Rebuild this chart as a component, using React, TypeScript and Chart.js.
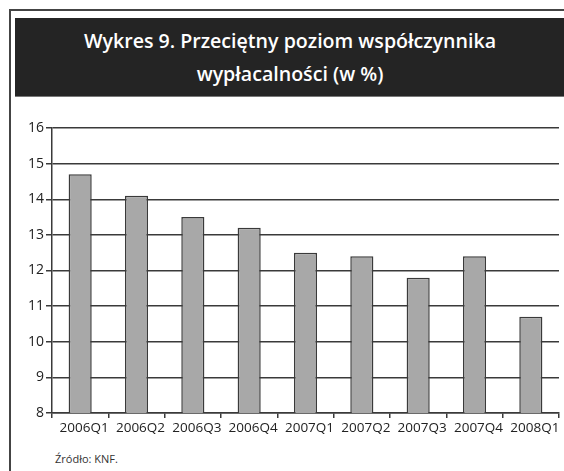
import React, { useEffect, useRef } from "react";
import { Chart, registerables } from "chart.js";

Chart.register(...registerables);

const titleLines = ["Wykres 9. Przeciętny poziom współczynnika", "wypłacalności (w %)"];
const categories = ["2006Q1", "2006Q2", "2006Q3", "2006Q4", "2007Q1", "2007Q2", "2007Q3", "2007Q4", "2008Q1"];
const values = [14.7, 14.1, 13.5, 13.2, 12.5, 12.4, 11.8, 12.4, 10.7];
const yMin = 8;
const yMax = 16;
const sourceText = "Źródło: KNF.";

export default function App() {
  const ref = useRef<HTMLCanvasElement | null>(null);
  useEffect(() => {
    if (!ref.current) return;
    const font = "'Open Sans', sans-serif";
    const chart = new Chart(ref.current, {
      type: "bar",
      data: {
        labels: categories,
        datasets: [
          {
            data: values,
            backgroundColor: "#a8a8a8",
            borderColor: "#3a3a3a",
            borderWidth: 1.5,
            categoryPercentage: 1,
            barPercentage: 0.41,
          },
        ],
      },
      options: {
        animation: false,
        responsive: false,
        maintainAspectRatio: false,
        layout: { padding: { top: 28, right: 5, left: 0, bottom: 0 } },
        plugins: { legend: { display: false }, tooltip: { enabled: false }, title: { display: false } },
        scales: {
          x: {
            grid: { display: true, drawOnChartArea: false, drawTicks: true, tickLength: 5, color: "#3a3a3a", lineWidth: 1.5, offset: true },
            border: { display: true, color: "#3a3a3a", width: 1.5 },
            ticks: { color: "#222", font: { family: font, size: 13.5 }, padding: 2, maxRotation: 0, autoSkip: false, labelOffset: 4 },
            afterFit: (s: any) => { s.height = 32; },
          },
          y: {
            min: yMin,
            max: yMax,
            grid: { display: true, drawTicks: true, tickLength: 6, color: "#3a3a3a", lineWidth: 1.5 },
            border: { display: true, color: "#3a3a3a", width: 1.5 },
            ticks: { stepSize: 1, color: "#222", font: { family: font, size: 14 }, padding: 2 },
            afterFit: (s: any) => { s.width = 52; },
          },
        },
      },
    });
    return () => chart.destroy();
  }, []);

  return (
    <div style={{ position: "absolute", left: 0, top: 0, width: 564, height: 471, overflow: "hidden", background: "#fff" }}>
      <div style={{ position: "absolute", left: 9, top: 9, width: 600, height: 500, borderLeft: "2px solid #444", borderTop: "2px solid #444" }} />
      <div
        style={{
          position: "absolute",
          left: 15,
          top: 18,
          width: 560,
          height: 79,
          background: "#242424",
          borderBottom: "1px solid #777",
          color: "#fff",
          fontFamily: "'Open Sans', sans-serif",
          fontWeight: 600,
          fontSize: 19.6,
          lineHeight: "33px",
          textAlign: "center",
          paddingTop: 6,
          boxSizing: "border-box",
          paddingRight: 10,
        }}
      >
        <div>{titleLines[0]}</div>
        <div>{titleLines[1]}</div>
      </div>
      <canvas ref={ref} width={564} height={345} style={{ position: "absolute", left: 0, top: 100, width: 564, height: 345 }} />
      <div style={{ position: "absolute", left: 55, top: 451, fontFamily: "'Open Sans', sans-serif", fontSize: 11, color: "#333" }}>
        {sourceText}
      </div>
    </div>
  );
}
